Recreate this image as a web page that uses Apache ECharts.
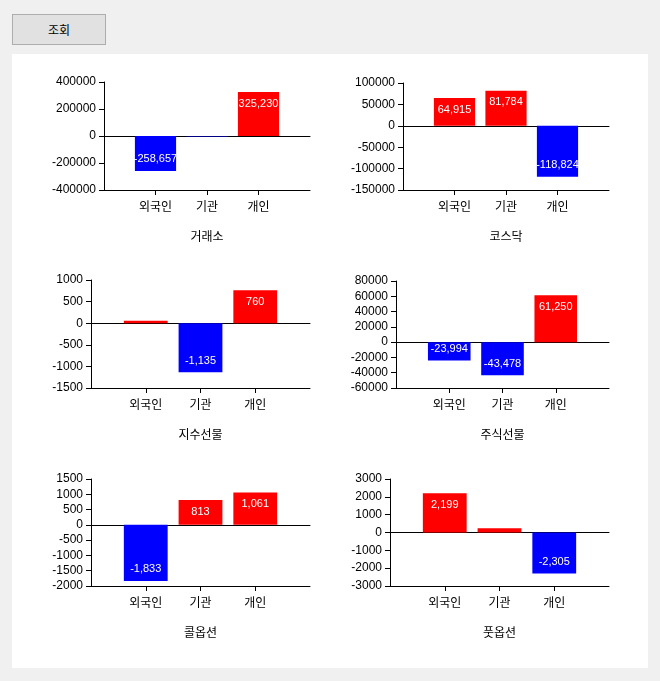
<!DOCTYPE html>
<html>
<head>
<meta charset="utf-8">
<title>투자자별 매매동향</title>
<script src="https://fastly.jsdelivr.net/npm/echarts@6/dist/echarts.min.js"></script>
<style>
  body { margin: 0; width: 660px; height: 681px; background: #f0f0f0; position: relative; overflow: hidden; }
  #btn { position: absolute; left: 12px; top: 14px; width: 92px; height: 29px; border: 1px solid #adadad;
         background: #e1e1e1; font: 12px "Noto Sans CJK KR", sans-serif; line-height: 29px; text-align: center; color: #000; }
  #panel { position: absolute; left: 12px; top: 54px; width: 636px; height: 614px; background: #fff; }
  #chart { position: absolute; left: 0; top: 0; width: 660px; height: 681px; }
</style>
</head>
<body>
<div id="btn">조회</div>
<div id="panel"></div>
<div id="chart"></div>
<script type="text/javascript">
  // 투자자 구분
  const categories = ['외국인', '기관', '개인'];
  const marketNames = ['거래소', '코스닥', '지수선물', '주식선물', '콜옵션', '풋옵션'];

  // 순매수 값
  const kospiData = [-258657, -4000, 325230];
  const kosdaqData = [64915, 81784, -118824];
  const indexFutData = [55, -1135, 760];
  const stockFutData = [-23994, -43478, 61250];
  const callData = [-1833, 813, 1061];
  const putData = [2199, 240, -2305];
  const allData = [kospiData, kosdaqData, indexFutData, stockFutData, callData, putData];

  // y축 범위
  const yMins = [-400000, -150000, -1500, -60000, -2000, -3000];
  const yMaxs = [400000, 100000, 1000, 80000, 1500, 3000];
  const ySteps = [200000, 50000, 500, 20000, 500, 1000];

  // 각 차트 위치
  const grids = [
    { left: 104, top: 82, width: 206, height: 108 },
    { left: 403, top: 83, width: 206, height: 107 },
    { left: 91, top: 280, width: 219, height: 108 },
    { left: 396, top: 281, width: 213, height: 107 },
    { left: 91, top: 479, width: 219, height: 107 },
    { left: 390, top: 479, width: 219, height: 107 }
  ];

  const slots = [''].concat(categories, ['']);
  const numFont = 'Liberation Sans';
  const krFont = 'Noto Sans CJK KR';

  let xAxes = [], yAxes = [], series = [];
  grids.forEach((g, i) => {
    xAxes.push({
      type: 'category', gridIndex: i, data: slots, boundaryGap: false,
      name: marketNames[i], nameLocation: 'middle', nameGap: 40,
      nameTextStyle: { fontFamily: krFont, fontSize: 12, color: '#000' },
      axisLine: { onZero: false, lineStyle: { color: '#000', width: 1 } },
      axisTick: { show: true, length: 5, lineStyle: { color: '#000' },
        interval: function (idx, val) { return val !== ''; } },
      axisLabel: { interval: 0, margin: 10, fontFamily: krFont, fontSize: 12, color: '#000' },
      splitLine: { show: false }
    });
    // 0 기준선
    xAxes.push({
      type: 'category', gridIndex: i, data: slots, boundaryGap: false, position: 'top',
      axisLine: { onZero: true, lineStyle: { color: '#000', width: 1 } },
      axisTick: { show: false }, axisLabel: { show: false }, splitLine: { show: false }
    });
    yAxes.push({
      type: 'value', gridIndex: i, min: yMins[i], max: yMaxs[i], interval: ySteps[i],
      axisLine: { show: true, lineStyle: { color: '#000', width: 1 } },
      axisTick: { show: true, length: 5, lineStyle: { color: '#000' } },
      axisLabel: { margin: 8, fontFamily: numFont, fontSize: 12, color: '#000',
        formatter: v => String(v) },
      splitLine: { show: false }
    });
    const range = yMaxs[i] - yMins[i];
    const items = allData[i].map(v => ({
      value: v,
      itemStyle: { color: v >= 0 ? '#ff0000' : '#0000ff' },
      label: {
        show: Math.abs(v) / range > 0.05,
        position: v >= 0 ? 'insideTop' : 'insideBottom'
      }
    }));
    series.push({
      type: 'bar', xAxisIndex: i * 2, yAxisIndex: i,
      data: [null].concat(items, [null]),
      barWidth: '80%',
      label: {
        distance: 6, color: '#fff', fontFamily: numFont, fontSize: 11,
        formatter: p => p.value.toLocaleString('en-US')
      },
      emphasis: { disabled: true },
      animation: false
    });
  });

  var myChart = echarts.init(document.getElementById('chart'));
  myChart.setOption({
    animation: false,
    grid: grids,
    xAxis: xAxes,
    yAxis: yAxes,
    series: series
  });
</script>
</body>
</html>
